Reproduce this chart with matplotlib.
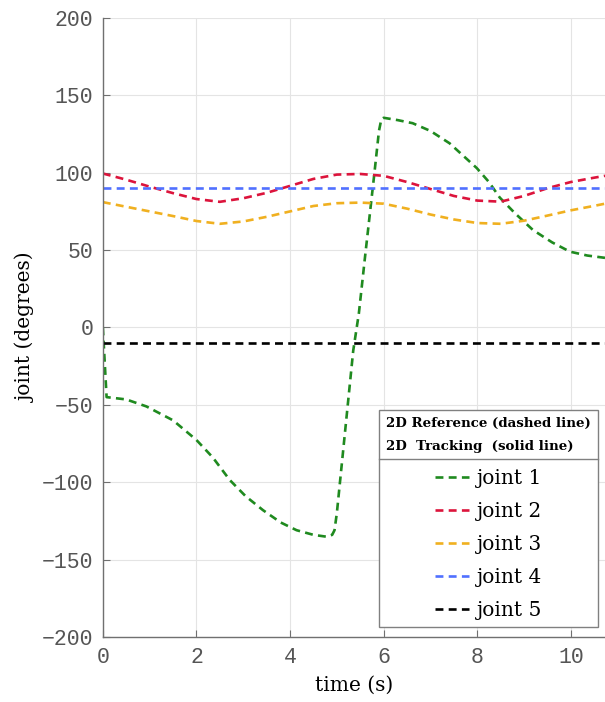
import numpy as np
import matplotlib
matplotlib.use("Agg")
import matplotlib.pyplot as plt
from matplotlib.lines import Line2D

# joint 1
t1 = [0.0, 0.08, 0.5, 0.93, 1.5, 2.0, 2.35, 2.71, 3.05, 3.42, 3.8, 4.14, 4.5, 4.78, 4.9,
      4.95, 5.0, 5.1, 5.2, 5.35, 5.47, 5.6, 5.8, 5.9, 5.95, 6.0, 6.3, 6.62, 7.0, 7.41,
      7.7, 7.99, 8.25, 8.48, 8.8, 9.19, 9.6, 9.98, 10.35, 10.73]
q1 = [0.0, -45.0, -46.5, -51.0, -60.0, -72.7, -84.0, -98.5, -109.0, -118.0, -126.0, -131.0,
      -134.0, -135.2, -134.0, -131.0, -120.0, -90.0, -60.0, -15.0, 9.0, 45.0, 99.0, 127.0,
      134.5, 135.5, 134.0, 132.0, 127.0, 119.0, 111.0, 103.0, 94.0, 84.0, 74.0, 63.0, 55.0,
      49.0, 46.5, 45.0]

# joints 2-5 share a time grid
t = [0.0, 0.5, 1.0, 1.5, 2.0, 2.5, 3.0, 3.5, 4.0, 4.5, 5.0, 5.5, 6.0, 6.5, 7.0, 7.5,
     8.0, 8.5, 9.0, 9.5, 10.0, 10.5, 10.73]
q2 = [99.5, 95.5, 91.0, 86.8, 83.0, 81.2, 83.5, 87.0, 91.5, 96.0, 98.8, 99.2, 98.0, 94.0,
      89.5, 85.0, 82.0, 81.3, 85.0, 90.0, 94.0, 96.8, 98.0]
q3 = [81.0, 78.0, 75.0, 72.0, 68.8, 67.0, 68.5, 71.5, 75.0, 78.5, 80.3, 80.7, 80.0, 76.8,
      73.0, 69.8, 67.5, 67.0, 69.0, 72.3, 75.7, 78.6, 80.0]
q4 = [90.0] * len(t)
q5 = [-10.0] * len(t)

labels = ['joint 1', 'joint 2', 'joint 3', 'joint 4', 'joint 5']
colors = ['#1f8a1f', '#dc143c', '#f0b020', '#5070ff', '#000000']

fig = plt.figure(figsize=(6.05, 7.02), dpi=100)
ax = fig.add_axes([0.170, 0.0926, 0.830, 0.8818])

series = [(t1, q1), (t, q2), (t, q3), (t, q4), (t, q5)]
for (x, y), lab, c in zip(series, labels, colors):
    ax.plot(x, y, '--', color=c, lw=1.9, dashes=(3.0, 2.0), label=lab)

ax.set_xlim(0, 10.73)
ax.set_ylim(-200, 200)
ax.set_xticks(np.arange(0, 11, 2))
ax.set_yticks(np.arange(-200, 201, 50))
ax.grid(True, color='#e4e4e4', lw=0.8)
ax.set_axisbelow(True)

for s in ['top', 'right']:
    ax.spines[s].set_visible(False)
for s in ['left', 'bottom']:
    ax.spines[s].set_color('#707070')
    ax.spines[s].set_linewidth(1.0)

ax.tick_params(direction='in', length=5, color='#707070', labelcolor='#555555',
               labelsize=15.5, pad=7)
for lbl in ax.get_xticklabels() + ax.get_yticklabels():
    lbl.set_family('Liberation Mono')

ax.set_xlabel('time (s)', family='DejaVu Serif', fontsize=14.5, labelpad=6)
ax.set_ylabel('joint (degrees)', family='DejaVu Serif', fontsize=14.5, labelpad=4)

leg = ax.legend(loc='lower right', bbox_to_anchor=(0.986, 0.016), borderaxespad=0,
                title='2D Reference (dashed line)\n2D  Tracking  (solid line)',
                title_fontproperties={'family': 'DejaVu Serif', 'weight': 'bold', 'size': 9.6},
                prop={'family': 'DejaVu Serif', 'size': 14.5},
                fancybox=False, framealpha=1, edgecolor='#808080',
                handlelength=1.7, handletextpad=0.4, labelspacing=0.7,
                borderpad=0.35)
leg.get_frame().set_linewidth(1.0)
leg.get_title().set_linespacing(2.0)
leg._legend_box.sep = 11

fig.canvas.draw()
fb = leg.get_frame().get_window_extent()
tb = leg.get_title().get_window_extent()
ysep = tb.y0 - 6
inv = fig.transFigure.inverted()
x0, y0 = inv.transform((fb.x0, ysep))
x1, _ = inv.transform((fb.x1, ysep))
fig.add_artist(Line2D([x0, x1], [y0, y0], color='#808080', lw=1.0, zorder=10))

fig.savefig('out.png', dpi=100)
